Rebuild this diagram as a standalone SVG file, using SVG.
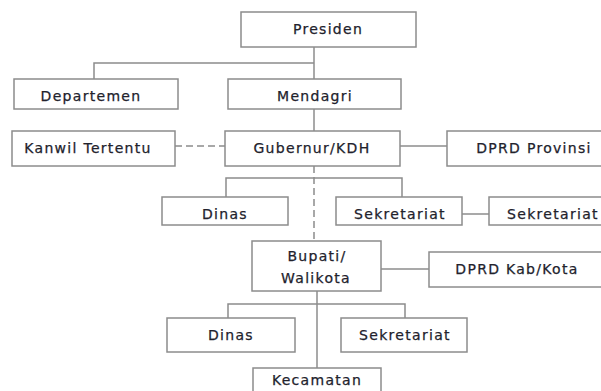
<svg xmlns="http://www.w3.org/2000/svg" width="601" height="391" viewBox="0 0 601 391">
<style>
  .box { fill: #ffffff; stroke: #8c8c8c; stroke-width: 1.5; }
  .lbl { font-family: "DejaVu Sans", Verdana, sans-serif; font-size: 14px; fill: #22222c; stroke: #22222c; stroke-width: 0.25; text-anchor: middle; letter-spacing: 1.3px; }
  .ln { fill: none; stroke: #8c8c8c; stroke-width: 1.5; }
  .dash { stroke-dasharray: 7 4; }
</style>
<rect width="601" height="391" fill="#ffffff"/>
<g id="connectors">
  <path class="ln" d="M314 47 V79"/>
  <path class="ln" d="M94 79 V63 H314"/>
  <path class="ln" d="M314 109 V131"/>
  <path class="ln dash" d="M175 146 H225"/>
  <path class="ln" d="M400 146 H447"/>
  <path class="ln dash" d="M314 166 V241"/>
  <path class="ln" d="M226 197 V178 H402 V197"/>
  <path class="ln" d="M462 214 H489"/>
  <path class="ln" d="M381 269 H429"/>
  <path class="ln" d="M317 291 V368"/>
  <path class="ln" d="M228 318 V304 H405 V318"/>
</g>
<g id="presiden"><rect class="box" x="241" y="12" width="175" height="35"/><text class="lbl" x="328" y="34">Presiden</text></g>
<g id="departemen"><rect class="box" x="14" y="79" width="164" height="30"/><text class="lbl" x="91" y="101">Departemen</text></g>
<g id="mendagri"><rect class="box" x="228" y="79" width="173" height="30"/><text class="lbl" x="315" y="101">Mendagri</text></g>
<g id="kanwil"><rect class="box" x="12" y="131" width="163" height="35"/><text class="lbl" x="88" y="153">Kanwil Tertentu</text></g>
<g id="gubernur"><rect class="box" x="225" y="131" width="175" height="35"/><text class="lbl" x="312" y="153">Gubernur/KDH</text></g>
<g id="dprd-provinsi"><rect class="box" x="447" y="131" width="160" height="35"/><text class="lbl" x="534" y="153">DPRD Provinsi</text></g>
<g id="dinas-prov"><rect class="box" x="162" y="197" width="126" height="28"/><text class="lbl" x="225" y="219">Dinas</text></g>
<g id="sekretariat-prov"><rect class="box" x="336" y="197" width="126" height="28"/><text class="lbl" x="400" y="219">Sekretariat</text></g>
<g id="sekretariat-dprd-prov"><rect class="box" x="489" y="197" width="118" height="28"/><text class="lbl" x="553" y="219">Sekretariat</text></g>
<g id="bupati"><rect class="box" x="252" y="241" width="129" height="50"/><text class="lbl" x="317" y="261">Bupati/</text><text class="lbl" x="316" y="283">Walikota</text></g>
<g id="dprd-kab"><rect class="box" x="429" y="252" width="178" height="35"/><text class="lbl" x="517" y="274">DPRD Kab/Kota</text></g>
<g id="dinas-kab"><rect class="box" x="167" y="318" width="128" height="34"/><text class="lbl" x="231" y="340">Dinas</text></g>
<g id="sekretariat-kab"><rect class="box" x="341" y="318" width="126" height="34"/><text class="lbl" x="405" y="340">Sekretariat</text></g>
<g id="kecamatan"><rect class="box" x="253" y="368" width="128" height="30"/><text class="lbl" x="317" y="385">Kecamatan</text></g>
</svg>
